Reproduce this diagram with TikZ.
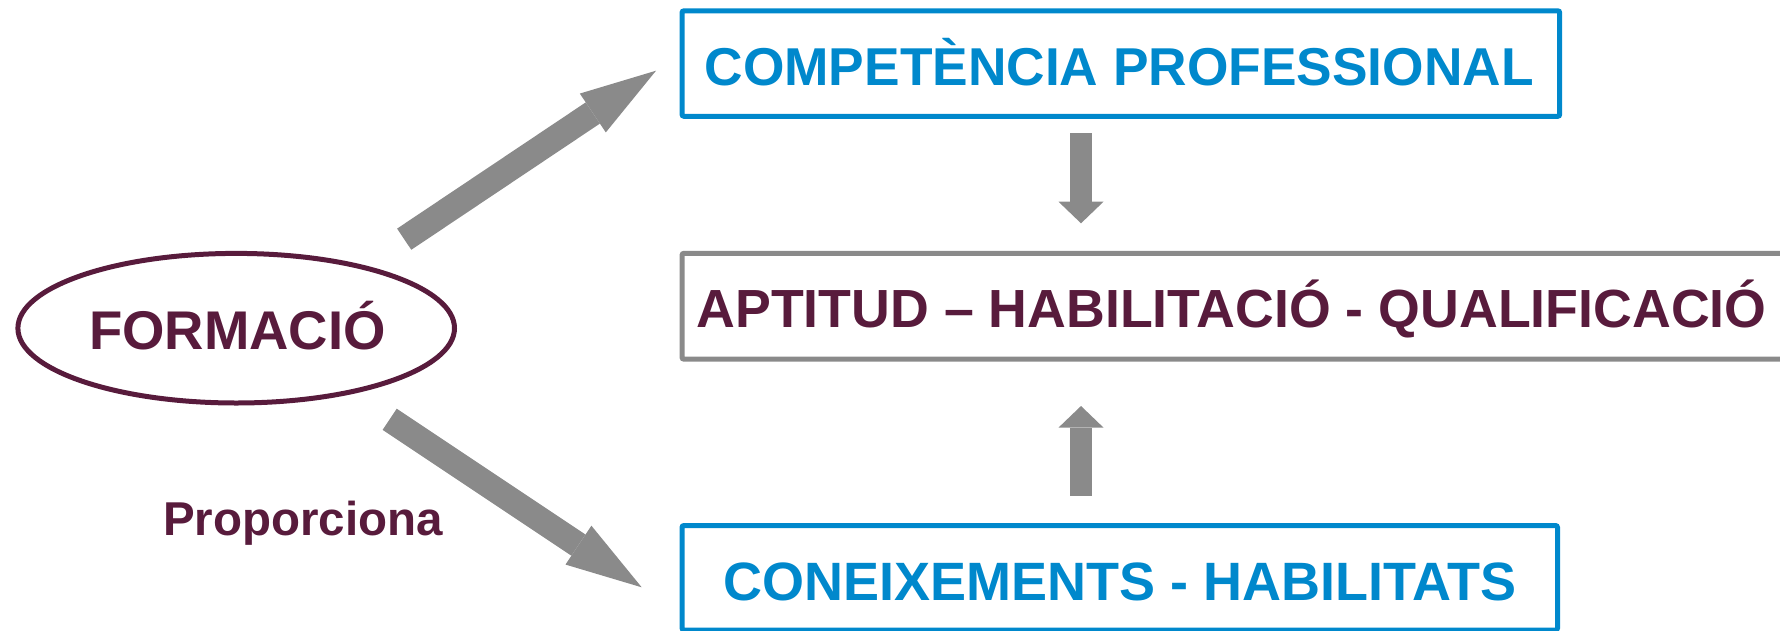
\documentclass[tikz,border=0pt]{standalone}
\usepackage{fontspec}
\setmainfont{Liberation Sans}
\usetikzlibrary{arrows.meta,shapes.geometric}
\definecolor{cblue}{RGB}{0,136,204}
\definecolor{cmaroon}{RGB}{88,27,60}
\definecolor{cgray}{RGB}{138,138,138}
\begin{document}
\begin{tikzpicture}[x=1pt,y=-1pt,
  bluebox/.style={draw=cblue,line width=5pt,rounded corners=2pt,inner sep=0pt,rectangle},
  graybox/.style={draw=cgray,line width=5pt,rounded corners=2pt,inner sep=0pt,rectangle},
  lbl/.style={anchor=base,inner sep=0pt,font=\fontsize{#1}{#1}\selectfont\bfseries},
  fatarrow/.style={draw=cgray,line width=25.5pt,-{Triangle[length=76pt,width=46.7pt,line width=0pt]}},
  vertarrow/.style={draw=cgray,line width=22.3pt,-{Triangle[length=21.6pt,width=45pt,line width=0pt]}}]
\useasboundingbox (0,0) rectangle (1780,630);
% boxes
\node[bluebox,minimum width=877.7pt,minimum height=105.5pt] (cp) at (1120.85,63.55) {};
\node[graybox,minimum width=1118pt,minimum height=105.9pt] (ap) at (1241,306.25) {};
\node[bluebox,minimum width=875.5pt,minimum height=104.5pt] (ch) at (1119.75,577.75) {};
\node[draw=cmaroon,line width=5pt,ellipse,inner sep=0pt,minimum width=436.6pt,minimum height=149.6pt] (fo) at (236.2,328.2) {};
% texts
\node[lbl=53.3,text=cblue] (cpt) at (1119.2,85) {COMPETÈNCIA PROFESSIONAL};
\node[lbl=53.7,text=cmaroon] (apt) at (1231.5,327.3) {APTITUD – HABILITACIÓ - QUALIFICACIÓ};
\node[lbl=54,text=cblue] (cht) at (1120,600) {CONEIXEMENTS - HABILITATS};
\node[lbl=54.5,text=cmaroon] (fot) at (237.5,349.3) {FORMACIÓ};
\node[lbl=47.5,text=cmaroon] (pr) at (303,535) {Proporciona};
% arrow ends
\coordinate (a1t) at (404.2,239.2);
\coordinate (a1h) at (656,70.7);
\coordinate (a2t) at (389.7,419.3);
\coordinate (a2h) at (641.7,587.3);
\coordinate (d1t) at (1081,133.3);
\coordinate (d1h) at (1081,223.3);
\coordinate (u1t) at (1081,495.7);
\coordinate (u1h) at (1081,406);
\draw[fatarrow] (a1t) -- (a1h);
\draw[fatarrow] (a2t) -- (a2h);
\draw[vertarrow] (d1t) -- (d1h);
\draw[vertarrow] (u1t) -- (u1h);
\end{tikzpicture}
\end{document}
